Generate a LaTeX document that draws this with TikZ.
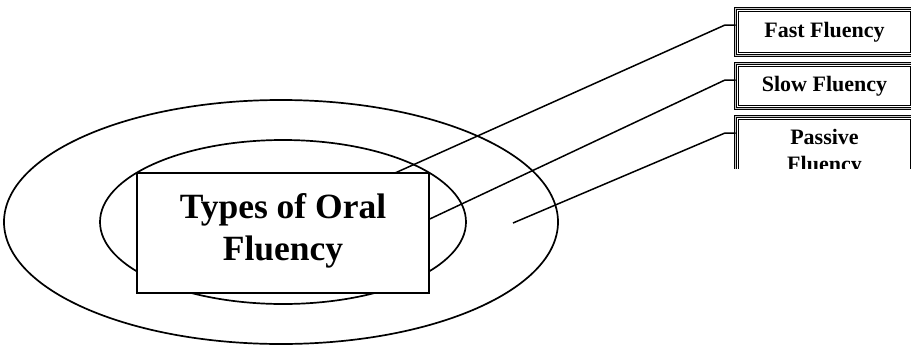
\documentclass[tikz,border=0pt]{standalone}
\usepackage{fontspec}
\setmainfont{Liberation Serif}
\usetikzlibrary{calc}

\tikzset{
  ring/.style={line width=1.7pt},
  link/.style={line width=1.5pt},
  mainbox/.style={draw, fill=white, line width=1.5pt, minimum width=292, minimum height=120,
    text depth=12pt, align=center, font=\bfseries\fontsize{35.5}{42}\selectfont},
  kindbox/.style={draw, line width=0.9pt, double=gray!45, double distance=1.5pt, outer sep=0,
    minimum width=178, align=center, font=\bfseries\fontsize{22}{27}\selectfont},
}

\begin{document}
\begin{tikzpicture}[x=1pt,y=-1pt]
\useasboundingbox (0,0) rectangle (911,346);
% Rings
\draw[ring] (281,222) ellipse [x radius=277, y radius=122];
\draw[ring] (283,222) ellipse [x radius=183, y radius=82];
% Centre
\node[mainbox] (types) at (283,233) {Types of Oral\\Fluency};
% Kinds (cut off at the edge)
\begin{scope}
\clip (700,0) rectangle (911,168);
\node[kindbox, minimum height=47] (fast) at (824.5,32) {Fast Fluency};
\node[kindbox, minimum height=45] (slow) at (824.5,86) {Slow Fluency};
\node[kindbox, minimum height=72] (passive) at (824.5,152.5) {Passive\\Fluency};
\foreach \k in {fast,slow,passive}
  \draw[line width=0.8pt] ($(\k.north west)+(3.2,3.2)$) rectangle ($(\k.south east)+(-3.2,-3.2)$);
\end{scope}
% Links
\coordinate (f0) at (395,173);
\coordinate (fb) at (725,25);
\draw[link] (f0) -- (fb) -- (fb -| fast.west);
\coordinate (s0) at ([yshift=14]types.east);
\coordinate (sb) at (725,80);
\draw[link] (s0) -- (sb) -- (sb -| slow.west);
\coordinate (p0) at (513,223);
\coordinate (pb) at (725,133);
\draw[link] (p0) -- (pb) -- (pb -| passive.west);
\end{tikzpicture}
\end{document}
